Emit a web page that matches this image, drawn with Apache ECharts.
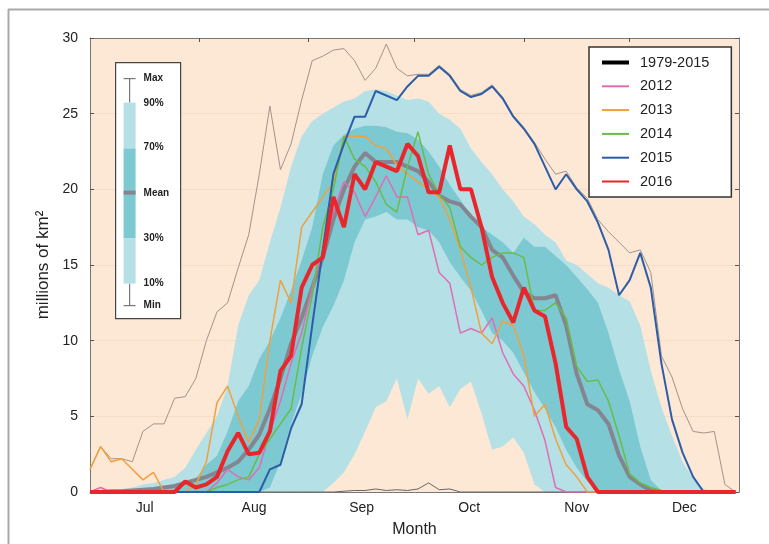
<!DOCTYPE html>
<html><head><meta charset="utf-8">
<script src="https://cdn.jsdelivr.net/npm/echarts@6.0.0/dist/echarts.min.js"></script>
<style>html,body{margin:0;padding:0;background:#fff}#c{width:769px;height:544px}</style>
</head><body><div id="c"></div>
<script>
// Day index counted from 1 July (0) to 31 December (184)
const days = [0,3,6,9,12,15,18,21,24,27,30,33,36,39,42,45,48,51,54,57,60,63,66,69,72,75,78,81,84,87,90,93,96,99,102,105,108,111,114,117,120,123,126,129,132,135,138,141,144,147,150,153,156,159,162,165,168,171,174,177,180,183];
const monthStarts = [31, 62, 92, 123, 153];
const monthMids = [15.5, 46.5, 77, 107.5, 138, 168.5];
const monthNames = ['Jul', 'Aug', 'Sep', 'Oct', 'Nov', 'Dec'];

// 1979-2015 statistics (millions of km²)
const maxVals = [1.5,3.0,2.2,2.2,2.0,4.0,4.5,4.5,6.2,6.3, 7.5,10.0,11.9,12.5,14.8,17.0,21.0,25.5,21.3,23.0, 25.9,28.5,28.8,29.2,29.3,28.5,27.2,28.0,29.6,28.0, 27.5,27.6,27.6,28.2,27.6,26.6,26.2,26.4,26.9,26.1, 24.9,24.1,23.1,22.0,21.0,21.2,20.1,19.4,18.0,17.2, 16.5,15.8,16.0,14.5,9.0,7.6,5.5,4.0,3.9,4.0, 0.5,0];
const p90 = [0,0.05,0.1,0.2,0.3,0.5,0.6,0.8,1.0,1.6, 2.8,3.9,5.0,7.0,11.0,13.0,14.0,16.5,18.8,21.5, 23.5,24.5,25.0,25.4,25.8,26.0,26.5,26.6,26.5,26.2, 25.9,26.0,25.8,25.0,24.6,24.0,22.7,21.8,21.0,20.0, 19.2,18.2,17.7,17.0,16.5,15.3,15.0,14.4,13.8,13.5, 13.0,12.6,11.0,8.0,5.6,3.7,2.0,0.9,0.2,0, 0,0];
const p70 = [0,0,0,0,0,0,0.1,0.2,0.4,0.6, 0.9,1.8,2.4,4.0,6.0,7.0,8.8,10.0,11.5,13.3, 15.3,17.5,21.0,22.9,23.6,24.0,24.2,24.2,24.1,23.8, 23.7,23.3,22.5,21.5,20.3,19.3,18.2,17.5,17.0,16.5, 15.8,16.8,16.2,16.2,15.6,15.0,14.2,13.4,12.5,10.5, 8.1,6.0,3.0,0.8,0.1,0, 0,0,0,0,0,0];
const p30 = [0,0,0,0,0,0,0,0,0,0, 0,0,0,0,0,0,0,0.3,2.0,4.5, 6.5,9.0,10.9,12.3,14.0,16.5,18.0,18.2,18.5,18.0, 18.0,17.5,17.3,16.5,15.2,14.2,13.3,12.0,10.5,10.0, 9.2,7.9,6.6,5.5,4.3,2.8,1.6,0.7,0,0, 0,0,0,0,0,0,0,0,0,0, 0,0];
const p10 = [0,0,0,0,0,0,0,0,0,0, 0,0,0,0,0,0,0,0,0,0, 0,0,0,0.6,1.3,2.5,4.0,5.6,6.0,7.5, 4.8,7.5,6.5,7.0,5.6,6.8,7.3,5.2,2.8,3.0, 3.6,2.6,0.5,0,0,0,0,0,0,0, 0,0,0,0,0,0,0,0,0,0, 0,0];
const meanVals = [0,0,0.05,0.05,0.1,0.15,0.2,0.3,0.4,0.6, 0.8,1.0,1.3,1.6,2.0,2.8,3.8,5.5,7.5,9.8, 11.5,13.5,15.5,18.0,20.0,21.5,22.4,21.8,21.8,21.8, 21.5,21.2,20.5,19.6,19.2,19.0,18.2,17.5,16.0,15.5, 14.3,13.2,12.8,12.8,13.0,11.0,7.8,5.8,5.4,4.5, 2.4,1.0,0.5,0.1,0,0, 0,0,0,0,0,0];
const minVals = [0,0,0,0,0,0,0,0,0,0, 0,0,0,0,0,0,0,0,0,0, 0,0,0,0,0.05,0.1,0.1,0.2,0.1,0.15, 0.1,0.2,0.6,0.15,0.2,0,0,0,0,0, 0,0,0,0,0,0,0,0,0,0, 0,0,0,0,0,0,0,0,0,0, 0,0];

// Individual years
const y2012 = [0,0.3,0,0,0,0,0,0,0,0, 0,0,0.6,1.5,1.0,0.8,1.6,4.0,6.0,8.5, 10.5,13.5,16.0,18.5,20.5,19.8,18.2,19.5,20.9,19.5, 19.5,17.0,17.3,14.5,13.8,10.5,10.8,10.5,11.5,9.2, 7.8,7.0,5.4,3.4,0.3,0,0,0,0,0, 0,0,0,0,0,0,0,0,0,0, 0,0];
const y2013 = [1.5,3.0,2.0,2.2,1.5,0.8,1.3,0,0,0, 0.5,2.0,5.9,7.0,5.0,3.3,4.8,10.0,14.0,12.5, 17.5,18.5,19.5,20.5,23.5,23.5,23.5,22.9,22.7,21.6, 21.0,20.5,20.0,19.5,18.0,16.0,13.5,10.5,9.8,11.3, 11.0,9.0,5.0,5.8,3.5,1.8,1.0,0,0,0, 0,0,0,0,0,0,0,0,0,0, 0,0];
const y2014 = [0,0,0,0,0,0,0,0,0,0, 0,0,0.3,0.5,0.8,1.0,2.5,3.5,4.5,5.5, 9.5,13.0,17.5,20.0,23.5,22.0,21.5,20.5,19.0,18.5, 21.5,23.8,21.0,19.7,18.8,16.2,15.5,15.0,15.5,15.8, 15.8,15.5,12.0,12.0,12.5,11.5,8.3,7.3,7.4,6.0, 3.7,1.2,0.6,0.3,0.1,0,0,0,0,0, 0,0];
const y2015 = [0,0,0,0,0,0,0,0,0,0, 0,0,0,0,0,0,0,1.5,1.8,4.2, 5.8,11.0,16.0,21.0,23.0,24.8,24.8,26.5,26.2,25.9, 26.8,27.5,27.5,28.1,27.5,26.5,26.1,26.3,26.8,26.0, 24.8,24.0,23.0,21.5,20.0,21.0,20.0,19.2,17.8,16.0, 13.0,14.0,15.8,13.5,8.5,4.8,2.6,1.0,0,0, 0,0];
const y2016 = [0,0,0,0,0,0,0,0,0,0.7, 0.3,0.5,1.0,2.7,3.9,2.5,2.6,4.0,8.0,9.0, 13.5,15.0,15.5,19.5,17.5,21.0,20.0,21.8,21.5,21.2, 23.0,22.2,19.8,19.8,22.9,20.0,20.0,17.5,14.2,12.5, 11.2,13.5,12.0,11.6,8.5,4.3,3.5,1.0,0,0, 0,0,0,0,0,0,0,0,0,0, 0,0];

const pts = arr => days.map((d, i) => [d, arr[i]]);
const FONT = 'Liberation Sans, Arial, Helvetica, sans-serif';
const PEACH = '#fde8d5', LIGHT = '#b5e0e6', DARK = '#7dc9d1';

function band(name, arr, color) {
  return { name, type: 'line', data: pts(arr), symbol: 'none', silent: true,
    lineStyle: { width: 0 }, areaStyle: { color, opacity: 1, origin: 'start' } };
}
function line(name, arr, color, width) {
  return { name, type: 'line', data: pts(arr), symbol: 'none', silent: true,
    lineStyle: { color, width }, itemStyle: { color } };
}

const monthLabel = {};
monthMids.forEach((m, i) => { monthLabel[m] = monthNames[i]; });

const chart = echarts.init(document.getElementById('c'), null, { renderer: 'canvas' });
chart.setOption({
  animation: false,
  backgroundColor: '#ffffff',
  textStyle: { fontFamily: FONT },
  grid: { left: 90, right: 30, top: 38, bottom: 52, show: true, backgroundColor: PEACH, borderWidth: 0 },
  xAxis: [
    { type: 'value', min: 0, max: 184, position: 'bottom',
      name: 'Month', nameLocation: 'middle', nameGap: 30,
      nameTextStyle: { fontSize: 16, color: '#222', fontFamily: FONT },
      axisLine: { show: true, onZero: false, lineStyle: { color: '#777', width: 1 } },
      axisTick: { show: true, inside: true, length: 4, customValues: monthStarts, lineStyle: { color: '#555' } },
      axisLabel: { show: true, customValues: monthMids, margin: 9, fontSize: 14, color: '#222', fontFamily: FONT,
        formatter: v => monthLabel[v] || '' },
      splitLine: { show: false } },
    { type: 'value', min: 0, max: 184, position: 'top',
      axisLine: { show: true, onZero: false, lineStyle: { color: '#777', width: 1 } },
      axisTick: { show: true, inside: true, length: 4, customValues: monthStarts, lineStyle: { color: '#555' } },
      axisLabel: { show: false }, splitLine: { show: false } }
  ],
  yAxis: [
    { type: 'value', min: 0, max: 30, interval: 5, position: 'left',
      name: 'millions of km²', nameLocation: 'middle', nameGap: 36, nameRotate: 90,
      nameTextStyle: { fontSize: 17, color: '#222', fontFamily: FONT },
      axisLine: { show: true, onZero: false, lineStyle: { color: '#777', width: 1 } },
      axisTick: { show: true, inside: true, length: 4, lineStyle: { color: '#555' } },
      axisLabel: { margin: 12, fontSize: 14, color: '#222', fontFamily: FONT },
      splitLine: { show: true, lineStyle: { color: '#f5dcc6', width: 1 } } },
    { type: 'value', min: 0, max: 30, interval: 5, position: 'right',
      axisLine: { show: true, onZero: false, lineStyle: { color: '#777', width: 1 } },
      axisTick: { show: true, inside: true, length: 4, lineStyle: { color: '#555' } },
      axisLabel: { show: false }, splitLine: { show: false } }
  ],
  legend: {
    left: 589, top: 47, orient: 'vertical',
    backgroundColor: '#fff', borderColor: '#333', borderWidth: 1.5, borderRadius: 0,
    padding: [8, 22, 8, 11], itemGap: 8.8, itemWidth: 27, itemHeight: 14,
    itemStyle: { opacity: 0 },
    textStyle: { fontSize: 14.5, color: '#222', fontFamily: FONT, padding: [0, 0, 0, 6] },
    selectedMode: false,
    data: [
      { name: '1979-2015', lineStyle: { color: '#000', width: 4 }, itemStyle: { color: '#000', opacity: 0 } },
      { name: '2012' }, { name: '2013' }, { name: '2014' }, { name: '2015' }, { name: '2016' }
    ]
  },
  series: [
    band('90%', p90, LIGHT),
    band('70%', p70, DARK),
    band('30%', p30, LIGHT),
    band('10%', p10, PEACH),
    line('Min', minVals, '#666', 1),
    line('Max', maxVals, '#a3928a', 1),
    line('1979-2015', meanVals, '#85858f', 4),
    line('2012', y2012, '#df6db4', 1.5),
    line('2013', y2013, '#f0a03c', 1.5),
    line('2014', y2014, '#68bd48', 1.5),
    line('2015', y2015, '#2c5da8', 2),
    line('2016', y2016, '#e8262b', 4)
  ],
  graphic: [
    { type: 'line', z: 100, shape: { x1: 8, y1: 9.5, x2: 769, y2: 9.5 }, style: { stroke: '#aaa', lineWidth: 2 }, silent: true },
    { type: 'line', z: 100, shape: { x1: 8.5, y1: 9, x2: 8.5, y2: 544 }, style: { stroke: '#aaa', lineWidth: 2 }, silent: true },
    { type: 'group', left: 115, top: 62, z: 100, silent: true, children: [
      { type: 'rect', z: 100, shape: { x: 0, y: 0, width: 65, height: 256 }, style: { fill: '#fff', stroke: '#444', lineWidth: 1.2 } },
      { type: 'line', z: 101, shape: { x1: 14, y1: 16, x2: 14, y2: 40 }, style: { stroke: '#777', lineWidth: 1.2 } },
      { type: 'line', z: 101, shape: { x1: 8, y1: 16, x2: 20, y2: 16 }, style: { stroke: '#777', lineWidth: 1.2 } },
      { type: 'line', z: 101, shape: { x1: 14, y1: 221, x2: 14, y2: 243 }, style: { stroke: '#777', lineWidth: 1.2 } },
      { type: 'line', z: 101, shape: { x1: 8, y1: 243, x2: 20, y2: 243 }, style: { stroke: '#777', lineWidth: 1.2 } },
      { type: 'rect', z: 101, shape: { x: 8, y: 40, width: 12, height: 46 }, style: { fill: LIGHT } },
      { type: 'rect', z: 101, shape: { x: 8, y: 86, width: 12, height: 90 }, style: { fill: DARK } },
      { type: 'rect', z: 101, shape: { x: 8, y: 176, width: 12, height: 45 }, style: { fill: LIGHT } },
      { type: 'rect', z: 102, shape: { x: 8, y: 128, width: 12, height: 4 }, style: { fill: '#85858f' } },
      { type: 'text', z: 102, x: 28, y: 16, style: { text: 'Max', font: 'bold 10px ' + FONT, fill: '#222', verticalAlign: 'middle' } },
      { type: 'text', z: 102, x: 28, y: 41, style: { text: '90%', font: 'bold 10px ' + FONT, fill: '#222', verticalAlign: 'middle' } },
      { type: 'text', z: 102, x: 28, y: 85, style: { text: '70%', font: 'bold 10px ' + FONT, fill: '#222', verticalAlign: 'middle' } },
      { type: 'text', z: 102, x: 28, y: 131, style: { text: 'Mean', font: 'bold 10px ' + FONT, fill: '#222', verticalAlign: 'middle' } },
      { type: 'text', z: 102, x: 28, y: 176, style: { text: '30%', font: 'bold 10px ' + FONT, fill: '#222', verticalAlign: 'middle' } },
      { type: 'text', z: 102, x: 28, y: 221, style: { text: '10%', font: 'bold 10px ' + FONT, fill: '#222', verticalAlign: 'middle' } },
      { type: 'text', z: 102, x: 28, y: 243, style: { text: 'Min', font: 'bold 10px ' + FONT, fill: '#222', verticalAlign: 'middle' } }
    ] }
  ]
});
</script>
</body></html>
